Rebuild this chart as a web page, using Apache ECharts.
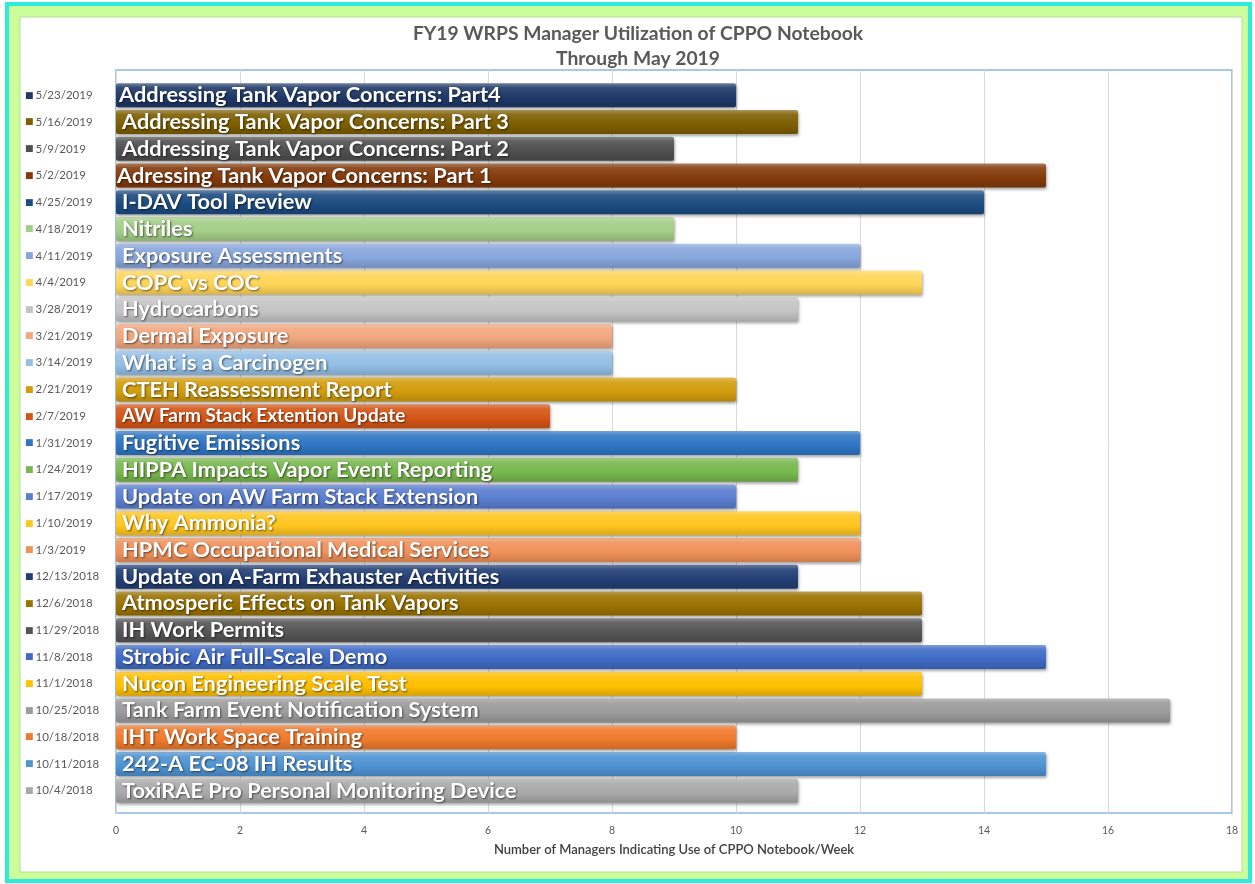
<!DOCTYPE html>
<html>
<head>
<meta charset="utf-8">
<script src="https://cdn.jsdelivr.net/npm/echarts@6/dist/echarts.min.js"></script>
<style>
html,body{margin:0;padding:0;background:#fff;}
#chart{width:1255px;height:884px;}
</style>
</head>
<body>
<div id="chart"></div>
<script>
// Data (bottom to top, chronological)
const dates = ["10/4/2018","10/11/2018","10/18/2018","10/25/2018","11/1/2018","11/8/2018","11/29/2018","12/6/2018","12/13/2018","1/3/2019","1/10/2019","1/17/2019","1/24/2019","1/31/2019","2/7/2019","2/21/2019","3/14/2019","3/21/2019","3/28/2019","4/4/2019","4/11/2019","4/18/2019","4/25/2019","5/2/2019","5/9/2019","5/16/2019","5/23/2019"];
const topics = ["ToxiRAE Pro Personal Monitoring Device","242-A EC-08 IH Results","IHT Work Space Training","Tank Farm Event Notification System","Nucon Engineering Scale Test","Strobic Air Full-Scale Demo","IH Work Permits","Atmosperic Effects on Tank Vapors","Update on A-Farm Exhauster Activities","HPMC Occupational Medical Services","Why Ammonia?","Update on AW Farm Stack Extension","HIPPA Impacts Vapor Event Reporting","Fugitive Emissions","AW Farm Stack Extention Update","CTEH Reassessment Report","What is a Carcinogen","Dermal Exposure","Hydrocarbons","COPC vs COC","Exposure Assessments","Nitriles","I-DAV Tool Preview","Adressing Tank Vapor Concerns: Part 1","Addressing Tank Vapor Concerns: Part 2","Addressing Tank Vapor Concerns: Part 3","Addressing Tank Vapor Concerns: Part4"];
const managers = [11,15,10,17,13,15,13,13,11,12,12,10,11,12,7,10,8,8,11,13,12,9,14,15,9,11,10];
const barColors = ["#A9A9A9","#4E93D2","#EF7A2C","#9B9B9B","#FFC000","#3F6BC6","#555555","#9A7200","#233F76","#F0915A","#FFC61E","#5A7ED0","#78B84E","#2E76C4","#D45516","#D29C0B","#93BFE6","#F2A77D","#C4C4C4","#FFD557","#87A6DD","#A3CE86","#1B4B80","#833A0B","#4F4F4F","#7D5E00","#1F3868"];
const xTicks = {min:0, max:18, interval:2};

function hexToRgb(h){h=h.replace('#','');return [parseInt(h.substr(0,2),16),parseInt(h.substr(2,2),16),parseInt(h.substr(4,2),16)];}
function mix(h,t,a){const c=hexToRgb(h);const r=c.map((v,i)=>Math.round(v+(t[i]-v)*a));return 'rgb('+r.join(',')+')';}
function lighten(h,a){return mix(h,[255,255,255],a);}
function darken(h,a){return mix(h,[0,0,0],a);}

const rich = {d:{color:'#595959',fontSize:11.5,fontFamily:'Lato',padding:[0,0,0,2]}};
barColors.forEach((c,i)=>{rich['s'+i]={color:c,fontSize:9,fontFamily:'DejaVu Sans',verticalAlign:'middle'};});

const barData = managers.map((v,i)=>{
  const c = barColors[i];
  const item = {
    value:v,
    itemStyle:{
      color:new echarts.graphic.LinearGradient(0,0,0,1,[
        {offset:0,color:lighten(c,0.35)},
        {offset:0.18,color:lighten(c,0.1)},
        {offset:0.6,color:c},
        {offset:1,color:darken(c,0.15)}
      ])
    }
  };
  if (topics[i].indexOf('AW Farm Stack Extention')===0) item.label={fontSize:19};
  if (topics[i].indexOf('Adressing')===0) item.label={distance:1};
  if (topics[i].indexOf('Part4')>0) item.label={distance:3};
  return item;
});

const chart = echarts.init(document.getElementById('chart'));
chart.setOption({
  animation:false,
  graphic:[
    {type:'rect',z:-10,shape:{x:7,y:4,width:1243,height:877},style:{fill:'#CCFF99',stroke:'#2EEBE0',lineWidth:4}},
    {type:'rect',z:-9,shape:{x:20,y:17,width:1222,height:855},style:{fill:'#FFFFFF',stroke:'#B8D8A0',lineWidth:1}}
  ],
  title:{
    text:'FY19 WRPS Manager Utilization of CPPO Notebook\nThrough May 2019',
    left:633, top:16, textAlign:'center',
    textStyle:{fontFamily:'Lato',fontWeight:'bold',fontSize:19.3,color:'#595959',lineHeight:25}
  },
  grid:[
    {left:116,width:1116,top:70,height:743,show:true,borderColor:'#8EB4E3',borderWidth:1.5,backgroundColor:'transparent'},
    {left:116,width:1116,top:82,height:722}
  ],
  xAxis:[
    {gridIndex:0,type:'value',min:xTicks.min,max:xTicks.max,interval:xTicks.interval,
     axisLine:{show:false},axisTick:{show:false},
     splitLine:{show:true,lineStyle:{color:'#D9D9D9',width:1}},
     axisLabel:{color:'#595959',fontSize:10.5,fontFamily:'Lato',margin:12},
     name:'Number of Managers Indicating Use of CPPO Notebook/Week',nameLocation:'middle',nameGap:30,
     nameTextStyle:{color:'#404040',fontSize:13,fontFamily:'Lato',fontWeight:600}},
    {gridIndex:1,type:'value',min:xTicks.min,max:xTicks.max,interval:xTicks.interval,show:false,splitLine:{show:false}}
  ],
  yAxis:[
    {gridIndex:0,type:'value',min:0,max:1,show:false,splitLine:{show:false}},
    {gridIndex:1,type:'category',data:dates,
     axisLine:{show:false},axisTick:{show:false},splitLine:{show:false},
     axisLabel:{align:'left',margin:91,formatter:(v,i)=>'{s'+i+'|■}{d|'+v+'}',rich:rich}}
  ],
  series:[{
    type:'bar',xAxisIndex:1,yAxisIndex:1,barWidth:24,
    data:barData,
    itemStyle:{borderRadius:2,shadowColor:'rgba(0,0,0,0.35)',shadowBlur:3,shadowOffsetY:2,shadowOffsetX:1},
    label:{show:true,position:'insideLeft',distance:6,
      formatter:p=>topics[p.dataIndex],
      color:'#FFFFFF',fontFamily:'Lato',fontWeight:'bold',fontSize:21.8,
      textShadowColor:'rgba(0,0,0,0.55)',textShadowBlur:2,textShadowOffsetX:1,textShadowOffsetY:1}
  }]
});
</script>
</body>
</html>
